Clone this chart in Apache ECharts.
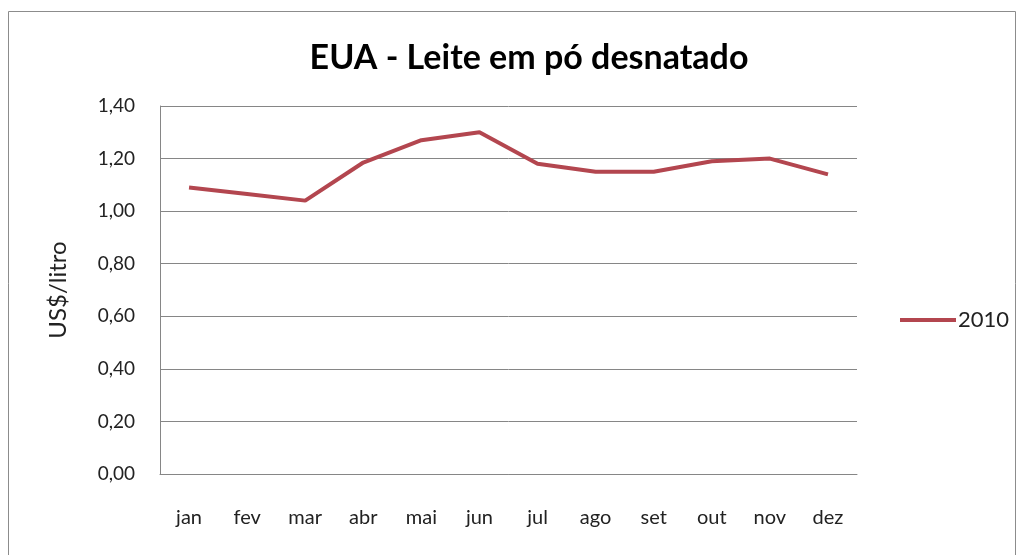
<!DOCTYPE html>
<html>
<head>
<meta charset="utf-8">
<script src="https://cdn.jsdelivr.net/npm/echarts@6/dist/echarts.min.js"></script>
<style>
  html, body { margin: 0; padding: 0; background: #fff; }
  #chart { width: 1024px; height: 555px; }
</style>
</head>
<body>
<div id="chart"></div>
<script>
// dados
var months = ['jan', 'fev', 'mar', 'abr', 'mai', 'jun', 'jul', 'ago', 'set', 'out', 'nov', 'dez'];
var values2010 = [1.09, 1.065, 1.04, 1.185, 1.27, 1.30, 1.18, 1.15, 1.15, 1.19, 1.20, 1.14];
var seriesName = '2010';

var fontFam = 'Lato, "Open Sans", sans-serif';

var chart = echarts.init(document.getElementById('chart'));
chart.setOption({
  animation: false,
  title: {
    text: 'EUA - Leite em pó desnatado',
    left: 524,
    textAlign: 'center',
    top: 36,
    textStyle: { fontFamily: fontFam, fontWeight: 'bold', fontSize: 34, color: '#000' }
  },
  graphic: [{
    type: 'rect',
    shape: { x: 8.5, y: 11.5, width: 1007, height: 600 },
    style: { fill: 'none', stroke: '#8c8c8c', lineWidth: 1 },
    silent: true
  }],
  legend: {
    data: [seriesName],
    orient: 'vertical',
    left: 895,
    top: 304,
    itemWidth: 56,
    itemHeight: 4,
    itemGap: 4,
    icon: 'rect',
    textStyle: { fontFamily: fontFam, fontSize: 22, color: '#222', padding: [0, 0, 0, -3] }
  },
  grid: { left: 160, right: 167, top: 106, bottom: 81 },
  xAxis: {
    type: 'category',
    data: months,
    boundaryGap: true,
    axisLine: { lineStyle: { color: '#868686' } },
    axisTick: { show: false },
    axisLabel: { fontFamily: fontFam, fontSize: 20, color: '#222', margin: 34 }
  },
  yAxis: {
    type: 'value',
    min: 0,
    max: 1.4,
    interval: 0.2,
    name: 'US$/litro',
    nameLocation: 'middle',
    nameGap: 90,
    nameTextStyle: { fontFamily: fontFam, fontSize: 24, color: '#222' },
    axisLine: { show: true, lineStyle: { color: '#868686' } },
    axisTick: { show: false },
    splitLine: { lineStyle: { color: '#868686' } },
    axisLabel: {
      fontFamily: fontFam, fontSize: 19, color: '#222', margin: 25,
      formatter: function (v) { return v.toFixed(2).replace('.', ','); }
    }
  },
  series: [{
    name: seriesName,
    type: 'line',
    data: values2010,
    symbol: 'none',
    lineStyle: { color: '#B3464F', width: 4 },
    itemStyle: { color: '#B3464F' }
  }]
});
</script>
</body>
</html>
